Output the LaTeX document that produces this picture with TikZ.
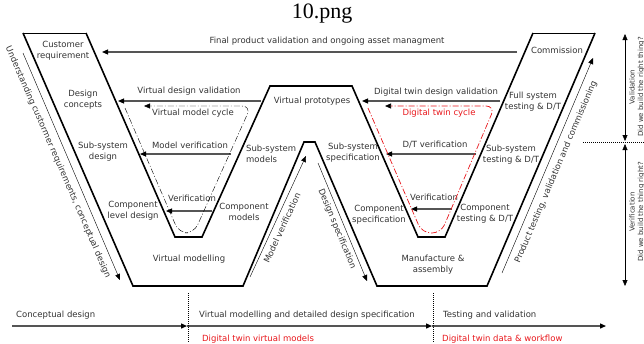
\documentclass[tikz,border=0pt]{standalone}
\usepackage{fontspec}
\setmainfont{DejaVu Sans}
\newfontfamily\titlefont{Liberation Serif}
\usetikzlibrary{arrows.meta}
\definecolor{txt}{HTML}{333333}
\definecolor{ln}{HTML}{555555}
\definecolor{thin}{HTML}{777777}
\definecolor{dtred}{HTML}{E8161B}
\begin{document}
\begin{tikzpicture}[x=1pt,y=-1pt,
  lbl/.style={text=txt,font=\fontsize{8.5}{10.8}\selectfont,align=center,inner sep=0pt},
  rlbl/.style={lbl,text=dtred},
  small/.style={text=txt,font=\fontsize{7}{8.6}\selectfont,align=center,inner sep=0pt},
  wline/.style={line width=1.6pt,black,line join=miter},
  topline/.style={line width=0.6pt,thin},
  tip/.style={-{Triangle[length=6pt,width=5pt,color=black]}},
  harr/.style={line width=1.1pt,ln,tip},
  sarr/.style={line width=0.6pt,thin,tip},
  cyc/.style={line width=0.7pt,dash pattern=on 6pt off 2pt on 1pt off 2pt,rounded corners=9pt,tip},
  tl/.style={line width=1.3pt,ln,tip},
  dotv/.style={line width=0.5pt,thin,dash pattern=on 1pt off 1pt}]
\useasboundingbox (0,0) rectangle (644,343);

% title
\node[font=\titlefont\fontsize{22}{24}\selectfont,inner sep=0pt] (title) at (322,14) {10.png};

% W outline
\coordinate (o1) at (23,33);   \coordinate (o2) at (133,286);
\coordinate (o3) at (243,286); \coordinate (o4) at (304,142);
\coordinate (o5) at (315,142); \coordinate (o6) at (377,286);
\coordinate (o7) at (487,286); \coordinate (o8) at (595,33);
\coordinate (i1) at (86,33);   \coordinate (i2) at (175,237);
\coordinate (i3) at (202,237); \coordinate (i4) at (270,86);
\coordinate (i5) at (352,86);  \coordinate (i6) at (418,237);
\coordinate (i7) at (445,237); \coordinate (i8) at (533,33);
\draw[wline] (o1) -- (o2) -- (o3) -- (o4) -- (o5) -- (o6) -- (o7) -- (o8);
\draw[wline] (i1) -- (i2) -- (i3) -- (i4) -- (i5) -- (i6) -- (i7) -- (i8);
\draw[topline] (o1) -- (i1);
\draw[topline] (i8) -- (o8);

% labels in the W
\node[lbl] (cust) at (63,51) {Customer\\requirement};
\node[lbl] (dcon) at (83,100) {Design\\concepts};
\node[lbl] (ssd) at (103,152) {Sub-system\\design};
\node[lbl] (cld) at (133,211) {Component\\level design};
\node[lbl] (vm) at (189,259) {Virtual modelling};
\node[lbl] (cm) at (244,212) {Component\\models};
\node[lbl,align=left,anchor=west] (ssm) at (246,154) {Sub-system\\models};
\node[lbl] (vp) at (312,101) {Virtual prototypes};
\node[lbl] (sss) at (353,153) {Sub-system\\specification};
\node[lbl] (cs) at (379,215) {Component\\specification};
\node[lbl] (ma) at (433,265) {Manufacture \&\\assembly};
\node[lbl] (com) at (557,50) {Commission};
\node[lbl] (fst) at (533,102) {Full system\\testing \& D/T};
\node[lbl] (sst) at (511,155) {Sub-system\\testing \& D/T};
\node[lbl] (ct) at (485,214) {Component\\testing \& D/T};

% horizontal arrows
\coordinate (fa) at (517,52);  \coordinate (fb) at (102,52);
\draw[harr] (fa) -- (fb);
\node[lbl] (fl) at (327,41) {Final product validation and ongoing asset managment};
\coordinate (va) at (261,101); \coordinate (vb) at (118,101);
\draw[harr] (va) -- (vb);
\node[lbl] (vl) at (189,91) {Virtual design validation};
\coordinate (ma1) at (231,154); \coordinate (mb1) at (140,154);
\draw[harr] (ma1) -- (mb1);
\node[lbl] (ml) at (190,145) {Model verification};
\coordinate (la) at (212,211); \coordinate (lb) at (166,211);
\draw[harr] (la) -- (lb);
\node[lbl] (ll) at (192,198) {Verification};
\coordinate (da) at (500,101); \coordinate (db) at (362,101);
\draw[harr] (da) -- (db);
\node[lbl] (dl) at (436,92) {Digital twin design validation};
\coordinate (ta) at (476,154); \coordinate (tb) at (386,154);
\draw[harr] (ta) -- (tb);
\node[lbl] (tlb) at (435,145) {D/T verification};
\coordinate (ra) at (452,209); \coordinate (rb) at (411,209);
\draw[harr] (ra) -- (rb);
\node[lbl] (rl) at (434,197) {Verification};

% cycles
\coordinate (c1) at (125,108); \coordinate (c2) at (179,233);
\coordinate (c3) at (194,233); \coordinate (c4) at (251,106);
\coordinate (c5) at (144,106);
\draw[cyc,thin] (c1) -- (c2) -- (c3) -- (c4) -- (c5);
\node[lbl] (vmc) at (193,113) {Virtual model cycle};
\coordinate (d1) at (368,108); \coordinate (d2) at (422,233);
\coordinate (d3) at (441,233); \coordinate (d4) at (495,106);
\coordinate (d5) at (385,106);
\draw[cyc,dtred] (d1) -- (d2) -- (d3) -- (d4) -- (d5);
\node[rlbl] (dtc) at (439,113) {Digital twin cycle};

% slanted arrows with text
\coordinate (u1) at (23,53); \coordinate (u2) at (120,280);
\draw[sarr] (u1) -- (u2);
\node[lbl,rotate=-66.5] (ul) at (58,162) {Understanding custormer requirements, conceptual design};
\coordinate (p1) at (502,273); \coordinate (p2) at (593,58);
\draw[sarr] (p1) -- (p2);
\node[lbl,rotate=67] (pl) at (556,172) {Product testing, validation and commissioning};
\coordinate (m1) at (250,277); \coordinate (m2) at (306,156);
\draw[sarr] (m1) -- (m2);
\node[lbl,rotate=65.2] (mvl) at (282,228) {Model verification};
\coordinate (s1) at (318,163); \coordinate (s2) at (367,281);
\draw[sarr] (s1) -- (s2);
\node[lbl,rotate=-67.4] (dsl) at (337,229) {Design specification};

% right-hand validation / verification
\coordinate (v1) at (625,34); \coordinate (v2) at (625,141);
\coordinate (v3) at (625,144); \coordinate (v4) at (625,286);
\draw[line width=0.6pt,thin,{Triangle[length=6pt,width=5pt,color=black]}-{Triangle[length=6pt,width=5pt,color=black]}] (v1) -- (v2);
\draw[line width=0.6pt,thin,{Triangle[length=6pt,width=5pt,color=black]}-{Triangle[length=6pt,width=5pt,color=black]}] (v3) -- (v4);
\coordinate (h1) at (583,142); \coordinate (h2) at (644,142);
\draw[dotv] (h1) -- (h2);
\node[small,rotate=90] (val) at (637,87) {Validation\\Did we build the right thing?};
\node[small,rotate=90] (ver) at (637,212) {Verification\\Did we build the thing right?};

% timeline
\coordinate (t0) at (12,326); \coordinate (t1) at (187,326);
\coordinate (t2) at (432,326); \coordinate (t3) at (606,326);
\draw[tl] (t0) -- (t1);
\draw[tl] (t1) -- (t2);
\draw[tl] (t2) -- (t3);
\coordinate (g1) at (188,293); \coordinate (g2) at (188,343);
\coordinate (g3) at (433,293); \coordinate (g4) at (433,343);
\draw[dotv] (g1) -- (g2);
\draw[dotv] (g3) -- (g4);
\node[lbl,anchor=west] (cd) at (16,315) {Conceptual design};
\node[lbl,anchor=west] (vmd) at (199,315) {Virtual modelling and detailed design specification};
\node[lbl,anchor=west] (tv) at (443,315) {Testing and validation};
\node[rlbl,anchor=west] (dvm) at (202,339) {Digital twin virtual models};
\node[rlbl,anchor=west] (ddw) at (442,339) {Digital twin data \& workflow};
\end{tikzpicture}
\end{document}
